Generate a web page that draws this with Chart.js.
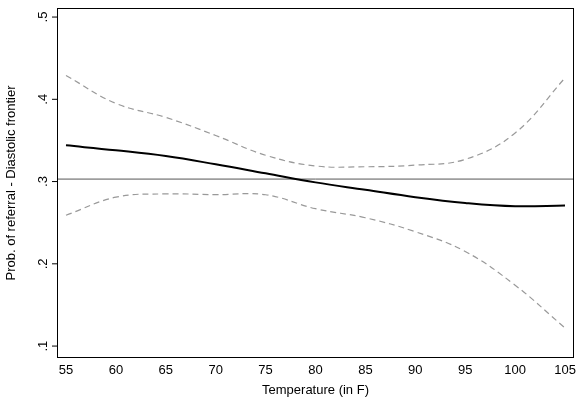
<!DOCTYPE html>
<html><head>
<script src="https://cdn.jsdelivr.net/npm/chart.js@4"></script>
<style>body{margin:0;background:#fff}#w{width:584px;height:400px}</style>
</head><body><div id="w"><canvas id="c"></canvas></div>
<script>
// --- data ---
const temps = [55, 60, 65, 70, 75, 80, 85, 90, 95, 100, 105];
const prob  = [0.344, 0.338, 0.331, 0.321, 0.310, 0.299, 0.290, 0.281, 0.274, 0.270, 0.271];
const upper = [0.429, 0.395, 0.378, 0.356, 0.332, 0.319, 0.318, 0.320, 0.327, 0.359, 0.426];
const lower = [0.259, 0.281, 0.285, 0.284, 0.284, 0.267, 0.256, 0.239, 0.215, 0.174, 0.122];
const refLine = 0.303;
const yTicks = [0.1, 0.2, 0.3, 0.4, 0.5];
const xTicks = [55, 60, 65, 70, 75, 80, 85, 90, 95, 100, 105];

const pts = ys => temps.map((t, i) => ({ x: t, y: ys[i] }));
const font = 'Liberation Sans, Arial, sans-serif';
const xMin = 54.1, xMax = 105.9;

// Stata-style rotated y labels and frame
const frame = {
    id: 'frame',
    afterDraw(chart) {
        const { ctx, chartArea: a, scales: { y } } = chart;
        ctx.save();
        ctx.strokeStyle = '#000';
        ctx.lineWidth = 1;
        ctx.strokeRect(a.left + 0.5, a.top + 0.5, a.width - 1, a.height - 1);
        ctx.fillStyle = '#000';
        ctx.font = '13px ' + font;
        yTicks.forEach(v => {
            const py = y.getPixelForValue(v);
            ctx.beginPath();
            ctx.moveTo(a.left - 5, py); ctx.lineTo(a.left, py); ctx.stroke();
            ctx.save();
            ctx.translate(a.left - 10, py);
            ctx.rotate(-Math.PI / 2);
            ctx.textAlign = 'center';
            ctx.fillText(String(v).replace(/^0/, ''), 0, 0);
            ctx.restore();
        });
        ctx.restore();
    }
};

new Chart(document.getElementById('c'), {
    type: 'line',
    data: {
        datasets: [
            { data: pts(prob), borderColor: '#000', borderWidth: 2, pointRadius: 0, tension: 0.4 },
            { data: pts(upper), borderColor: '#999', borderWidth: 1.2, borderDash: [6, 4], pointRadius: 0, tension: 0.4 },
            { data: pts(lower), borderColor: '#999', borderWidth: 1.2, borderDash: [6, 4], pointRadius: 0, tension: 0.4 },
            { data: [{ x: xMin, y: refLine }, { x: xMax, y: refLine }], borderColor: '#555', borderWidth: 1, pointRadius: 0 }
        ]
    },
    options: {
        responsive: true,
        maintainAspectRatio: false,
        animation: false,
        layout: { padding: { top: 8, right: 10, left: 0, bottom: 0 } },
        plugins: { legend: { display: false }, tooltip: { enabled: false } },
        scales: {
            x: {
                type: 'linear', min: xMin, max: xMax,
                afterBuildTicks: s => { s.ticks = xTicks.map(v => ({ value: v })); },
                grid: { display: false, drawTicks: true, tickLength: 5, tickColor: '#000' },
                border: { display: false },
                ticks: { color: '#000', font: { family: font, size: 13 }, maxRotation: 0, padding: 0 },
                title: { display: true, text: 'Temperature (in F)', color: '#000', font: { family: font, size: 13 }, padding: { top: 0, bottom: 2 } },
                afterFit: s => { s.height = 42; }
            },
            y: {
                min: 0.0855, max: 0.511,
                grid: { display: false },
                border: { display: false },
                ticks: { display: false },
                afterFit: s => { s.width = 57; },
                title: { display: true, text: 'Prob. of referral - Diastolic frontier', color: '#000', font: { family: font, size: 13 }, padding: { bottom: 18 } }
            }
        }
    },
    plugins: [frame]
});
</script></body></html>
